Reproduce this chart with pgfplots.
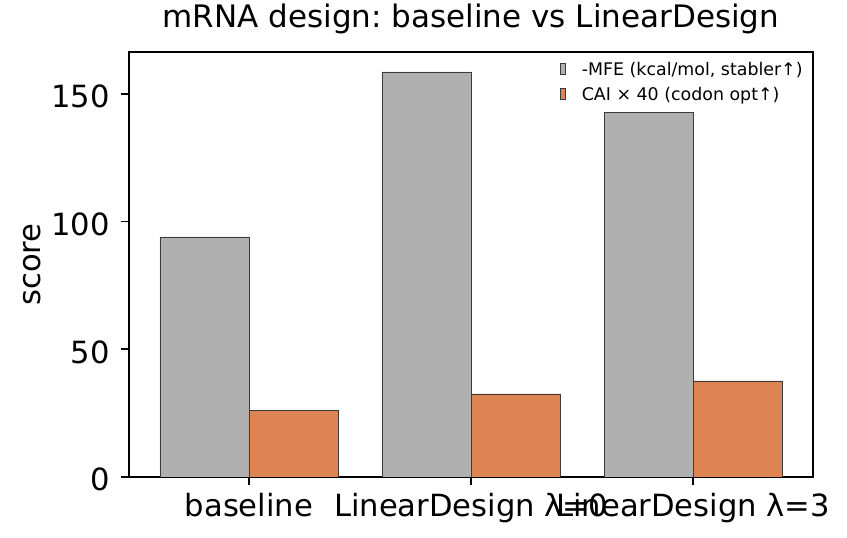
\documentclass[border=0pt]{standalone}
\usepackage{fontspec}
\setmainfont{DejaVu Sans}
\usepackage{pgfplots}
\pgfplotsset{compat=1.18}
\usetikzlibrary{calc}
\definecolor{bargray}{HTML}{B0B0B0}
\definecolor{barorange}{HTML}{DD8452}
\definecolor{baredge}{HTML}{3A3A3A}
\frenchspacing
\begin{document}
\begin{tikzpicture}
\begin{axis}[
  scale only axis, width=342pt, height=212.5pt,
  xmin=-0.54, xmax=2.54, ymin=0, ymax=166.4,
  ybar, bar width=44.5pt,
  xtick={0,1,2},
  xticklabels={baseline, LinearDesign λ=0, LinearDesign λ=3},
  ytick={0,50,100,150},
  xtick pos=left, ytick pos=left,
  tick align=outside, major tick length=4pt,
  tick style={line width=0.8pt, black},
  axis line style={line width=0.9pt},
  /pgf/number format/assume math mode=true,
  every tick label/.append style={font=\fontsize{15.3}{18}\selectfont},
  xticklabel style={anchor=base, inner sep=0pt, yshift=-16pt},
  yticklabel style={anchor=east, inner sep=0pt, xshift=-5.5pt, yshift=-1.4pt},
  ylabel={score},
  ylabel style={at={([xshift=-44pt]axis description cs:0,0.5)}, anchor=base, inner sep=0pt, font=\fontsize{15.3}{18}\selectfont},
  title={mRNA design: baseline vs LinearDesign},
  title style={at={([yshift=6.35pt]axis description cs:0.5,1)}, anchor=base, inner sep=0pt, font=\fontsize{15.5}{18}\selectfont},
  legend style={at={([xshift=-5pt,yshift=-4.5pt]axis description cs:1,1)}, anchor=north east, draw=none, fill=none, inner sep=0pt,
    font=\fontsize{8.7}{11}\selectfont,
    nodes={inner sep=0pt, text height=7pt, text depth=2pt},
    row sep=3.5pt},
  legend cell align=left,
  legend image code/.code={\draw[#1, line width=0.3pt] (0pt,-2.2pt) rectangle (2.5pt,3.3pt); \path (10.5pt,0pt);},
]
\addplot[fill=bargray, draw=baredge, line width=0.35pt, bar shift=-22.25pt] coordinates {(0,94.0) (1,158.6) (2,142.6)};
\addlegendentry{-MFE (kcal/mol, stabler↑)}
\addplot[fill=barorange, draw=baredge, line width=0.35pt, bar shift=22.25pt] coordinates {(0,25.9) (1,32.5) (2,37.6)};
\addlegendentry{CAI × 40 (codon opt↑)}
\coordinate (sw) at (rel axis cs:0,0);
\coordinate (ne) at (rel axis cs:1,1);
\end{axis}
\pgfresetboundingbox
\path[use as bounding box] ($(sw)+(-64.5pt,-30.5pt)$) rectangle ($(ne)+(17pt,26pt)$);
\end{tikzpicture}
\end{document}
